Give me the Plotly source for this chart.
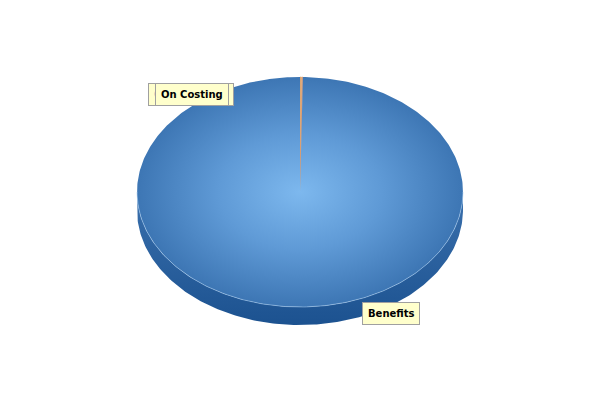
import numpy as np
import plotly.graph_objects as go

# ---- data ----
labels = ["Consulting", "Training", "On Costing", "Benefits"]
values = [0.08, 0.08, 0.12, 99.72]
slice_colors = ["#d9a066", "#e0a878", "#d89a70", None]

# ---- geometry (pixel-like axes) ----
cx, cy, rx, ry, depth = 300, 192, 163, 115, 18

def ell(t, dy=0):
    return cx + rx * np.sin(t), cy - ry * np.cos(t) + dy

fig = go.Figure()

# side (front half) of the 3D pie
t = np.linspace(np.pi / 2, 3 * np.pi / 2, 200)
xt, yt = ell(t)
xb, yb = ell(t[::-1], depth)
fig.add_trace(go.Scatter(
    x=np.concatenate([xt, xb, xt[:1]]), y=np.concatenate([yt, yb, yt[:1]]),
    mode="lines", line=dict(width=0), fill="toself",
    fillgradient=dict(type="vertical", colorscale=[[0, "#1c5290"], [1, "#3a70ad"]]),
    hoverinfo="skip", showlegend=False))

# top slices, clockwise from 12 o'clock
total = sum(values)
start = 0.0
for lab, v, col in zip(labels, values, slice_colors):
    a0 = start
    a1 = start + 2 * np.pi * v / total
    start = a1
    tt = np.linspace(a0, a1, max(3, int(400 * v / total) + 3))
    x, y = ell(tt)
    xs = np.concatenate([[cx], x, [cx]])
    ys = np.concatenate([[cy], y, [cy]])
    if col is None:
        fig.add_trace(go.Scatter(
            x=xs, y=ys, mode="lines", line=dict(width=0), fill="toself",
            fillgradient=dict(type="radial",
                              colorscale=[[0, "#7db8ee"], [0.5, "#5f9ad6"], [1, "#3d76b4"]]),
            name=lab, hoverinfo="name", showlegend=False))
    else:
        fig.add_trace(go.Scatter(
            x=xs, y=ys, mode="lines", line=dict(width=0.7, color=col), fill="toself",
            fillcolor=col, name=lab, hoverinfo="name", showlegend=False))

# subtle rim line of the top
tr = np.linspace(np.pi / 2, 3 * np.pi / 2, 200)
xr, yr = ell(tr)
fig.add_trace(go.Scatter(x=xr, y=yr, mode="lines",
                         line=dict(width=1, color="rgba(170,205,240,0.55)"),
                         hoverinfo="skip", showlegend=False))

box = dict(bgcolor="#ffffcc", bordercolor="#a0a0a0", borderwidth=1, borderpad=5,
           showarrow=False, xanchor="left", yanchor="top", xref="x", yref="y")
fnt = dict(family="DejaVu Sans", size=10, color="black", weight="bold")
faint = dict(family="DejaVu Sans", size=10, color="#b8b8b8", weight="bold")
fig.add_annotation(x=148, y=83, text="Consulting", font=faint, **box)
fig.add_annotation(x=176, y=83, text="Training", font=faint, **box)
fig.add_annotation(x=155, y=83, text="On Costing", font=fnt, **box)
fig.add_annotation(x=362, y=302, text="Benefits", font=fnt, **box)

fig.update_layout(
    width=600, height=400, margin=dict(l=0, r=0, t=0, b=0),
    paper_bgcolor="white", plot_bgcolor="white",
    xaxis=dict(range=[0, 600], visible=False, fixedrange=True),
    yaxis=dict(range=[400, 0], visible=False, fixedrange=True),
)
fig.write_html("out.html")
